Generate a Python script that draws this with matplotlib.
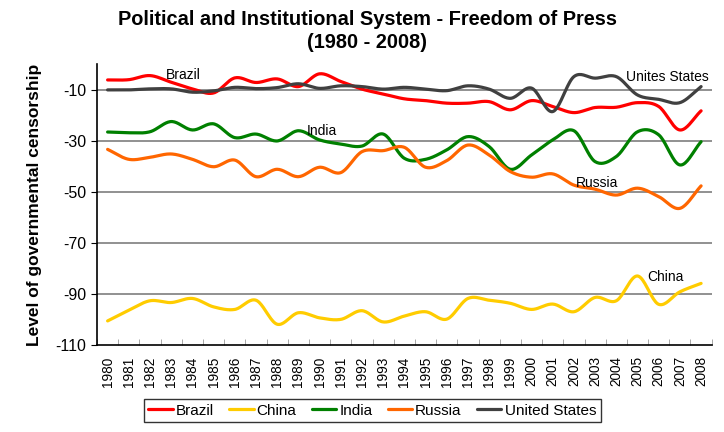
import numpy as np
import matplotlib.pyplot as plt
from matplotlib.ticker import FixedLocator

plt.rcParams['font.family'] = ['Liberation Sans', 'DejaVu Sans']
plt.rcParams['axes.unicode_minus'] = False

years = list(range(1980, 2009))

brazil = [-6.1, -6.0, -4.4, -7.0, -9.6, -11.2, -5.3, -7.1, -5.7, -8.7,
          -3.7, -6.7, -9.7, -11.6, -13.5, -14.2, -15.2, -15.2, -14.6, -17.8,
          -14.2, -16.5, -18.9, -16.9, -16.8, -15.0, -16.5, -25.7, -18.2]
china = [-100.5, -96.3, -92.6, -93.3, -91.7, -95.0, -96.0, -92.4, -101.8, -97.3,
         -99.3, -99.9, -96.5, -100.9, -98.6, -96.9, -99.8, -91.7, -92.4, -93.6,
         -96.0, -93.9, -96.9, -91.3, -92.6, -82.9, -94.0, -89.1, -85.8]
india = [-26.5, -26.8, -26.4, -22.4, -25.7, -23.3, -28.7, -27.3, -30.0, -26.0,
         -29.6, -31.2, -32.0, -27.3, -36.8, -37.2, -33.5, -28.3, -32.2, -41.1,
         -35.5, -29.6, -26.0, -38.1, -36.1, -26.4, -27.6, -39.4, -30.3]
russia = [-33.3, -37.2, -36.4, -35.1, -37.2, -40.1, -37.5, -44.0, -41.1, -44.0,
          -40.3, -42.4, -34.2, -33.8, -32.5, -40.3, -37.7, -31.6, -35.5, -42.0,
          -44.2, -42.9, -47.3, -48.9, -51.2, -48.5, -51.8, -56.4, -47.6]
usa = [-10.0, -10.0, -9.6, -9.6, -10.9, -10.4, -9.0, -9.5, -9.1, -7.6,
       -9.4, -8.4, -8.7, -9.7, -9.0, -9.7, -10.3, -8.4, -9.7, -13.3,
       -9.3, -18.5, -4.8, -5.4, -4.8, -12.0, -13.7, -15.0, -8.7]

series = [('Brazil', brazil, '#ff0000'),
          ('China', china, '#ffcc00'),
          ('India', india, '#008000'),
          ('Russia', russia, '#ff6600'),
          ('United States', usa, '#404040')]


def smooth(x, y, n=20):
    # Catmull-Rom curve through every point, like a "smoothed line" chart
    x = np.asarray(x, float)
    y = np.asarray(y, float)
    px = np.concatenate([[2 * x[0] - x[1]], x, [2 * x[-1] - x[-2]]])
    py = np.concatenate([[2 * y[0] - y[1]], y, [2 * y[-1] - y[-2]]])
    xs, ys = [], []
    t = np.linspace(0, 1, n, endpoint=False)
    for i in range(1, len(px) - 2):
        for p, out in ((px, xs), (py, ys)):
            p0, p1, p2, p3 = p[i - 1], p[i], p[i + 1], p[i + 2]
            out.extend(0.5 * (2 * p1 + (-p0 + p2) * t
                              + (2 * p0 - 5 * p1 + 4 * p2 - p3) * t ** 2
                              + (-p0 + 3 * p1 - 3 * p2 + p3) * t ** 3))
    xs.append(x[-1])
    ys.append(y[-1])
    return np.array(xs), np.array(ys)


fig = plt.figure(figsize=(7.24, 4.32), dpi=100)
ax = fig.add_axes([0.134, 0.201, 0.849, 0.650])

idx = np.arange(len(years))
for name, vals, col in series:
    sx, sy = smooth(idx, vals)
    ax.plot(sx, sy, color=col, lw=2.3, label=name, solid_capstyle='round', zorder=3)

ax.set_xlim(-0.5, len(years) - 0.5)
ax.set_ylim(-110, 0)
ax.set_yticks([-10, -30, -50, -70, -90, -110])
ax.set_xticks(idx)
ax.set_xticklabels([str(y) for y in years], rotation=90, fontsize=9.8)
ax.xaxis.set_minor_locator(FixedLocator(np.arange(-0.5, len(years), 1)))
ax.tick_params(axis='x', which='major', length=0, pad=8)
ax.tick_params(axis='x', which='minor', direction='in', length=4, color='#999999')
ax.tick_params(axis='y', labelsize=11.5, length=4, direction='out')

for v in [-10, -30, -50, -70, -90]:
    ax.axhline(v, color='#888888', lw=1.3, zorder=1)

for s in ['top', 'right']:
    ax.spines[s].set_visible(False)
ax.spines['left'].set_linewidth(1.2)
ax.spines['bottom'].set_linewidth(1.2)

ax.set_ylabel('Level of governmental censorship', fontsize=12.5, fontweight='bold', labelpad=10)

fig.suptitle('Political and Institutional System - Freedom of Press\n(1980 - 2008)',
             fontsize=14.4, fontweight='bold', x=0.507, y=0.978, linespacing=1.3)

ax.text(3.56, -4.1, 'Brazil', fontsize=10, ha='center', va='center')
ax.text(10.1, -26.1, 'India', fontsize=10, ha='center', va='center')
ax.text(26.4, -4.9, 'Unites States', fontsize=10, ha='center', va='center')
ax.text(23.1, -46.5, 'Russia', fontsize=10, ha='center', va='center')
ax.text(26.3, -83.3, 'China', fontsize=10, ha='center', va='center')

fig.legend(loc='center', bbox_to_anchor=(0.514, 0.049), ncol=5, frameon=True,
           fancybox=False, edgecolor='black', handlelength=1.6,
           handletextpad=0.2, columnspacing=1.0, borderpad=0.3,
           prop={'size': 11})

fig.savefig('out.png', dpi=100)
